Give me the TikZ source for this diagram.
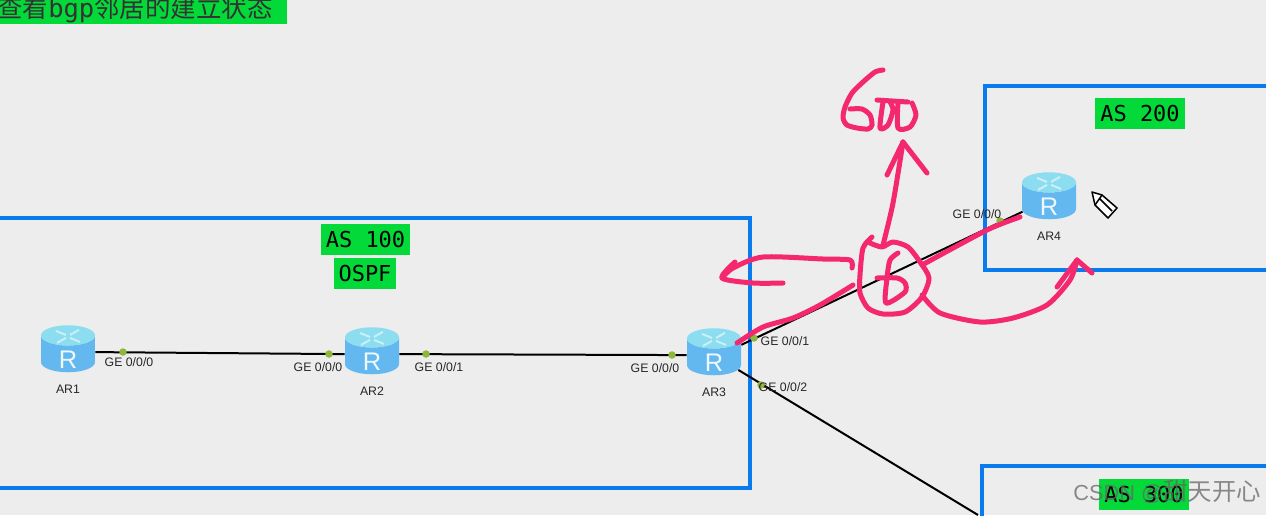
\documentclass[tikz,border=0pt]{standalone}
\usepackage{fontspec}
\setmainfont{Liberation Sans}
\newfontfamily\monofont{DejaVu Sans Mono}
\newfontfamily\cjk{Noto Sans CJK SC}
\usetikzlibrary{arrows.meta, positioning, shapes.geometric, calc}
\definecolor{cpage}{HTML}{EDEDED}
\definecolor{cblue}{HTML}{0A7BEE}
\definecolor{cgreen}{HTML}{04D93A}
\definecolor{cink}{HTML}{F4286F}
\definecolor{cport}{HTML}{8DB83A}
\definecolor{ctop}{HTML}{8CDDEF}
\definecolor{cbody}{HTML}{62B8EF}
\tikzset{
  every picture/.style={x=0.02cm, y=-0.02cm},
  asbox/.style={draw=cblue, line width=0.075cm},
  tag/.style={fill=cgreen, inner sep=0pt, minimum width=1.79cm, minimum height=0.62cm, font=\monofont\fontsize{12.5}{14}\selectfont},
  router/.style={cylinder, shape border rotate=90, aspect=1.1, draw=none, inner sep=0pt,
    cylinder uses custom fill, cylinder body fill=cbody, cylinder end fill=ctop,
    minimum width=1.08cm, minimum height=0.94cm, text=white!90!cbody, font=\fontsize{14.5}{15}\selectfont},
  link/.style={draw=black, line width=0.04cm},
  port/.style={circle, fill=cport, inner sep=0pt, minimum size=0.15cm},
  note/.style={font=\fontsize{7}{8}\selectfont, text=black!85, inner sep=0pt},
  ink/.style={draw=cink, line width=0.1cm, line cap=round, line join=round},
}
\newcommand{\inkline}[1]{\draw[ink] plot[smooth, tension=0.45] coordinates {#1};}
\newcommand{\routerR}{\raisebox{-0.28cm}[0pt][0pt]{R}}
\begin{document}
\begin{tikzpicture}
  \clip (0,0) rectangle (1266,515);
  \fill[cpage] (0,0) rectangle (1266,515);
  % banner
  \node[fill=cgreen, anchor=north west, inner sep=0pt, minimum width=5.74cm, minimum height=0.48cm] (banner) at (0,0) {};
  \node[anchor=base west, inner sep=0pt, font=\cjk\fontsize{14.5}{16}\selectfont, text=black!80] (bannertext) at (-3,17) {查看{\monofont bgp}邻居的建立状态};
  % AS areas
  \draw[asbox] (-2,218) rectangle (750,488);
  \draw[asbox] (985,86) rectangle (1275,270);
  \draw[asbox] (982,466) rectangle (1275,530);
  \node[tag] (as100) at (365.5,239.5) {AS 100};
  \node[tag, minimum width=1.24cm] (ospf) at (365,273.5) {OSPF};
  \node[tag] (as200) at (1140,113.5) {AS 200};
  \node[tag] (as300) at (1144,494) {AS 300};
  % routers
  \node[router] (ar1) at (68,354) {\routerR};
  \node[router] (ar2) at (372,356) {\routerR};
  \node[router] (ar3) at (714,357) {\routerR};
  \node[router] (ar4) at (1049,201) {\routerR};
  \foreach \r in {ar1, ar2, ar3, ar4} {
    \draw[white, opacity=0.55, line width=0.04cm] ($(\r.north)+(-2,10)$) -- ++(-10,-4) ($(\r.north)+(2,10)$) -- ++(9,-5)
      ($(\r.north)+(-2,13)$) -- ++(-9,5) ($(\r.north)+(2,13)$) -- ++(10,4);
  }
  \node[note, below=0.24cm of ar1] (ar1name) {AR1};
  \node[note, below=0.24cm of ar2] (ar2name) {AR2};
  \node[note, below=0.24cm of ar3] (ar3name) {AR3};
  \node[note, below=0.24cm of ar4] (ar4name) {AR4};
  % links
  \coordinate (dnend) at (978,515);
  \draw[link] (ar1.4) -- (ar2.176);
  \draw[link] (ar2.4) -- (ar3.176);
  \draw[link] (ar3.24) -- (ar4.202);
  \draw[link] (ar3.-28) -- (dnend);
  % ports
  \node[port] (p1) at (123,352) {};
  \node[port] (p2) at (329,354) {};
  \node[port] (p3) at (426,354) {};
  \node[port] (p4) at (672,355) {};
  \node[port] (p5) at (754,338) {};
  \node[port] (p6) at (761,385) {};
  \node[port] (p7) at (1000,221) {};
  \node[note] (l1) at (129,362) {GE 0/0/0};
  \node[note] (l2) at (318,367) {GE 0/0/0};
  \node[note] (l3) at (439,367) {GE 0/0/1};
  \node[note] (l4) at (655,368) {GE 0/0/0};
  \node[note] (l5) at (785,341) {GE 0/0/1};
  \node[note] (l6) at (783,387) {GE 0/0/2};
  \node[note] (l7) at (977,214) {GE 0/0/0};
  % pencil cursor
  \draw[fill=white, line width=0.03cm, line join=round] (1092,192) -- (1102,195) -- (1117,208) -- (1108,218) -- (1095,205) -- cycle;
  \draw[line width=0.03cm] (1100,199) -- (1112,211) (1102,195) -- (1095,205);
  % handwriting
  \inkline{(883,70) (875,72) (863,82) (852,93) (845,107) (843,118) (847,125) (857,128) (868,129) (872,125) (870,115) (862,109) (850,109)}
  \inkline{(877,100) (908,102)}
  \inkline{(883,102) (880,128) (888,125) (893,110) (890,102)}
  \inkline{(898,102) (898,128) (910,127) (916,115) (912,103)}
  \inkline{(883,245) (893,203) (903,142)}
  \inkline{(887,175) (903,142)}
  \inkline{(903,142) (927,173)}
  \inkline{(872,237) (863,248) (860,275) (860,293) (868,308) (883,314) (905,312) (922,297) (929,278) (920,262) (908,247) (893,242) (882,247) (870,243)}
  \inkline{(898,253) (890,260) (887,278) (886,303) (905,292) (905,283) (897,278) (877,278)}
  \inkline{(852,268) (850,260) (823,259) (763,257) (733,268) (722,278)}
  \inkline{(735,262) (722,278) (753,283) (783,283)}
  \inkline{(853,285) (820,305) (793,318) (763,327) (737,343)}
  \inkline{(922,265) (987,230) (1020,217)}
  \inkline{(922,295) (940,313) (980,322) (1013,318) (1047,305) (1070,280) (1077,260)}
  \inkline{(1057,287) (1077,260)}
  \inkline{(1077,260) (1092,273)}
  % watermark
  \node[anchor=base west, inner sep=0pt, text=black!60, opacity=0.75, font=\fontsize{12.4}{14}\selectfont] (mark) at (1073,500) {CSDN @{\cjk\fontsize{13.9}{14}\selectfont 甜天开心}};
\end{tikzpicture}
\end{document}
